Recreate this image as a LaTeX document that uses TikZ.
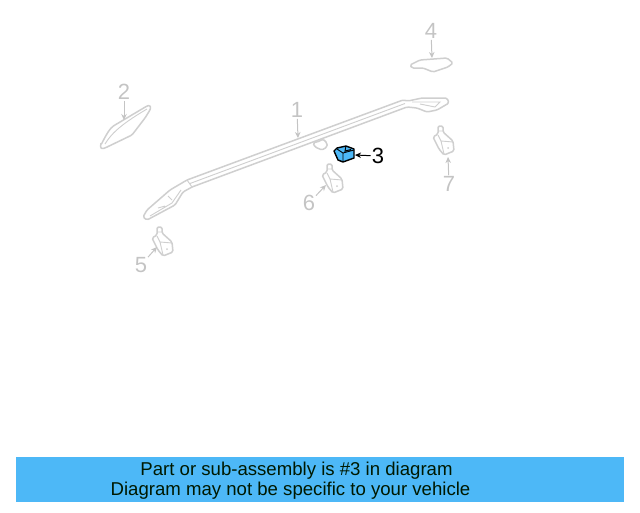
\documentclass[tikz,border=0pt]{standalone}
\usepackage{fontspec}
\setmainfont{Liberation Sans}
\usepackage{xcolor}
\usetikzlibrary{arrows.meta}
\definecolor{partgray}{HTML}{CFCFCF}
\definecolor{labelgray}{HTML}{C4C4C4}
\definecolor{bannerblue}{HTML}{4DB8F7}
\tikzset{
  part/.style={draw=partgray, line width=1.5pt, line join=round, rounded corners=1.5pt, fill=white},
  partline/.style={draw=partgray, line width=0.9pt},
  callout/.style={font=\fontsize{22}{22}\selectfont, text=labelgray, inner sep=0pt},
  leader/.style={draw=labelgray, line width=1pt, -{Stealth[length=6pt,width=5.5pt]}, shorten <=1pt},
  banner/.style={font=\fontsize{18.6}{20}\selectfont, text=black!90!green, inner sep=0pt}
}
\newcommand{\mountfoot}[1]{%
  \begin{scope}[shift={#1}]
    \draw[part] (152,238) -- (157,235) -- (157,227) -- (162,227) -- (162,233) -- (172,242) -- (173,252) -- (163,256) -- (158,250) -- cycle;
    \draw[partline] (157,236) -- (160,242) -- (172,243) (160,242) -- (163,255) (157,232) -- (162,232);
    \fill[partgray] (167,249) circle (1);
  \end{scope}
}
\begin{document}
\begin{tikzpicture}[x=1pt, y=-1pt]
\useasboundingbox (0,0) rectangle (640,512);

% Roof rail
\draw[part] (187,180) -- (403,100) -- (408,101) -- (422,98) -- (447,98) -- (449,103) -- (437,110) -- (427,112) -- (417,108) -- (407,107) -- (192,187) -- (183,192) -- (175,205) -- (147,220) -- (143,217) -- (147,210) -- (170,190) -- cycle;
\draw[partline] (190,183.5) -- (405,103.5);
\draw[partline] (187,180) -- (192,187);
\draw[partline] (150,216) -- (172,203) -- (181,190) (158,208) -- (165,206) (168,196) -- (172,200);
\draw[partline] (412,102) -- (440,102) -- (435,107) -- (420,104);
\coordinate (railtip) at (298,138);

% Clip under the rail
\draw[part] (313,143) -- (320,141) -- (323,139) -- (327,143) -- (327,147) -- (322,150) -- (315,147) -- cycle;

% End cover
\draw[part] (101,145) .. controls (106,135) and (110,128) .. (115,125) -- (147,106) .. controls (150,105) and (151,107) .. (150,110) -- (145,118) -- (132,135) -- (105,148) .. controls (102,149) and (100,148) .. (101,145) -- cycle;
\draw[partline] (105,144) .. controls (112,132) and (125,122) .. (147,109);
\coordinate (covertip) at (124,120);

% Small cover
\draw[part] (410,65) -- (420,60) -- (447,58) -- (453,63) -- (448,67) -- (433,72) -- (423,68) -- (412,68) -- cycle;
\coordinate (smalltip) at (432,58);

% Feet
\mountfoot{(0,0)}
\mountfoot{(170,-63)}
\mountfoot{(281,-101)}
\coordinate (footAtip) at (157,247);
\coordinate (footBtip) at (326,185);
\coordinate (footCtip) at (448,157);

% Highlighted part
\draw[fill=bannerblue, line width=1.4pt, line join=round] (334,151) -- (337,148) -- (346,146) -- (354,149) -- (354,158) -- (343,162) -- (338,160) -- cycle;
\draw[line width=0.9pt] (337,149) -- (343,153) -- (354,150) (343,153) -- (343,162) (346,146) -- (345,151) -- (351,149.5);
\coordinate (bluetip) at (355,155);

% Callouts
\node[callout] (num1) at (297,110) {1};
\node[callout] (num2) at (124,92) {2};
\node[callout, text=black] (num3) at (378,156) {3};
\node[callout] (num4) at (431,31) {4};
\node[callout] (num5) at (141,265) {5};
\node[callout] (num6) at (309,203) {6};
\node[callout] (num7) at (449,184) {7};

\draw[leader] (num1) -- (railtip);
\draw[leader] (num2) -- (covertip);
\draw[leader, draw=black] (num3) -- (bluetip);
\draw[leader] (num4) -- (smalltip);
\draw[leader] (num5) -- (footAtip);
\draw[leader] (num6) -- (footBtip);
\draw[leader] (num7) -- (footCtip);

% Banner
\node[fill=bannerblue, minimum width=608pt, minimum height=45pt, inner sep=0pt] (strip) at (320,479.5) {};
\node[banner] (line1) at (296.5,471) {Part or sub-assembly is \#3 in diagram};
\node[banner] (line2) at (290.5,490.5) {Diagram may not be specific to your vehicle};
\end{tikzpicture}
\end{document}
